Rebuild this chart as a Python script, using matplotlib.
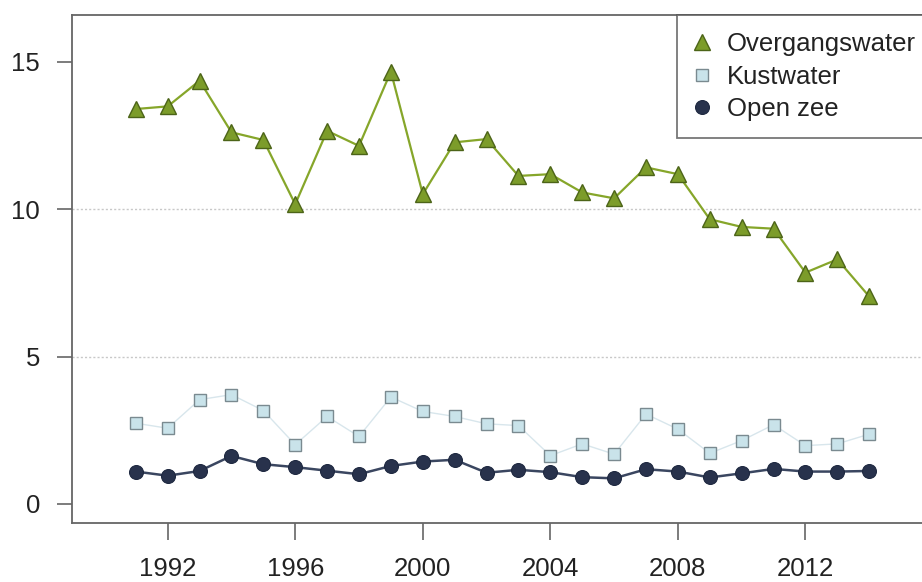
import matplotlib
matplotlib.use("Agg")
import matplotlib.pyplot as plt
from matplotlib.lines import Line2D

plt.rcParams['font.family'] = ['Liberation Sans', 'DejaVu Sans']

years = list(range(1991, 2015))
overgangswater = [13.40, 13.49, 14.36, 12.61, 12.35, 10.17, 12.66, 12.15, 14.67, 10.51,
                  12.27, 12.38, 11.13, 11.19, 10.57, 10.37, 11.42, 11.19, 9.66, 9.40,
                  9.34, 7.85, 8.30, 7.04]
kustwater = [2.74, 2.57, 3.54, 3.71, 3.17, 2.01, 2.97, 2.29, 3.63, 3.14,
             2.97, 2.72, 2.66, 1.64, 2.04, 1.69, 3.05, 2.54, 1.72, 2.15,
             2.69, 1.98, 2.04, 2.37]
open_zee = [1.10, 0.96, 1.12, 1.63, 1.35, 1.25, 1.13, 1.01, 1.29, 1.44,
            1.50, 1.06, 1.16, 1.08, 0.91, 0.87, 1.18, 1.10, 0.90, 1.04,
            1.19, 1.10, 1.10, 1.12]
labels = ["Overgangswater", "Kustwater", "Open zee"]
xticks = [1992, 1996, 2000, 2004, 2008, 2012]
yticks = [0, 5, 10, 15]

W, H = 922, 582
fig = plt.figure(figsize=(W / 100, H / 100), dpi=100)
left, right, top, bottom = 72, 933, 15, 523
ax = fig.add_axes([left / W, 1 - bottom / H, (right - left) / W, (bottom - top) / H])
ax.set_xlim(1989, 2016)
ax.set_ylim(-0.645, 16.59)

for y in [5, 10]:
    ax.axhline(y, color='#c8c8c8', lw=1.0, ls=(0, (1.5, 1.5)), zorder=0)

tri = dict(marker='^', ms=12, mfc='#7c9c2a', mec='#4c6418', mew=1.0)
sq = dict(marker='s', ms=8, mfc='#c9e3ea', mec='#7a8a90', mew=1.0)
ci = dict(marker='o', ms=10, mfc='#28324c', mec='#1e2840', mew=0.8)

ax.plot(years, kustwater, color='#d8e6ec', lw=1.0, zorder=2, **sq)
ax.plot(years, open_zee, color='#3a4660', lw=1.8, zorder=3, **ci)
ax.plot(years, overgangswater, color='#86a62a', lw=1.6, zorder=4, **tri)

ax.set_xticks(xticks)
ax.set_yticks(yticks)
ax.tick_params(axis='both', labelsize=18.5, labelcolor='#222222', width=1.2, color='#666666')
ax.tick_params(axis='x', length=12, pad=12.5, direction='out')
ax.tick_params(axis='y', length=11, pad=12, direction='out')
for s in ax.spines.values():
    s.set_color('#666666')
    s.set_linewidth(1.3)

handles = [
    Line2D([], [], ls='none', **tri),
    Line2D([], [], ls='none', **sq),
    Line2D([], [], ls='none', **ci),
]
leg = ax.legend(handles, labels, loc='upper right', bbox_to_anchor=(1, 1),
                borderaxespad=0, fontsize=18.5, frameon=True, fancybox=False,
                handlelength=0.6, handletextpad=0.65, labelspacing=0.32,
                borderpad=0.68, edgecolor='#555555')
leg.get_frame().set_linewidth(1.3)
for t in leg.get_texts():
    t.set_color('#222222')

fig.savefig("out.png", dpi=100)
